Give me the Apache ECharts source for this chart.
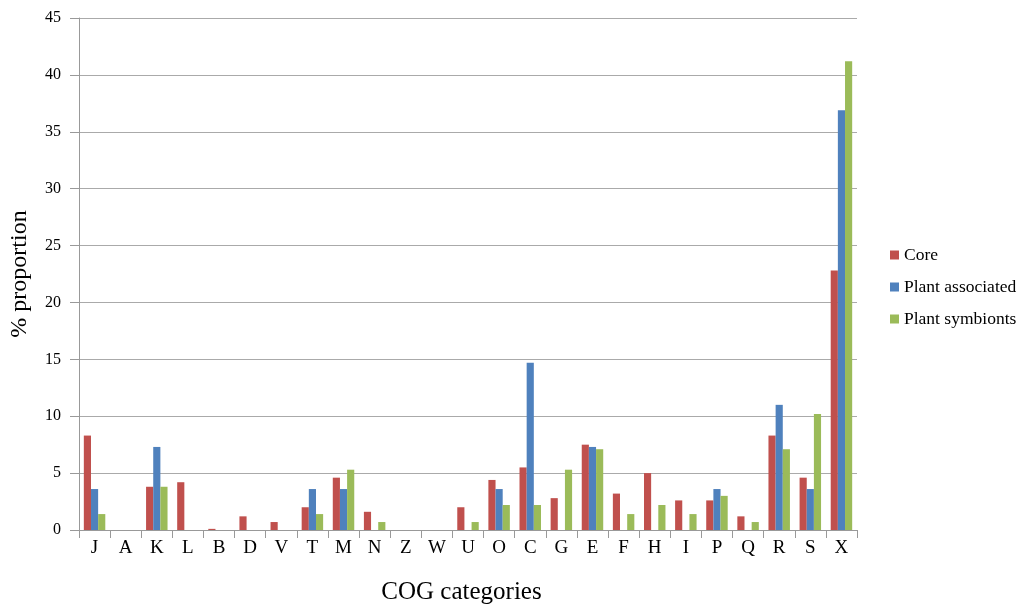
<!DOCTYPE html>
<html><head><meta charset="utf-8">
<script src="https://cdn.jsdelivr.net/npm/echarts@6/dist/echarts.min.js"></script>
<style>html,body{margin:0;padding:0;background:#fff}#c{width:1024px;height:615px}</style>
</head><body><div id="c"></div>
<script>
var categories = ['J','A','K','L','B','D','V','T','M','N','Z','W','U','O','C','G','E','F','H','I','P','Q','R','S','X'];
var core =       [8.3,0,3.8,4.2,0.1,1.2,0.7,2.0,4.6,1.6,0,0,2.0,4.4,5.5,2.8,7.5,3.2,5.0,2.6,2.6,1.2,8.3,4.6,22.8];
var plantAssoc = [3.6,0,7.3,0,0,0,0,3.6,3.6,0,0,0,0,3.6,14.7,0,7.3,0,0,0,3.6,0,11.0,3.6,36.9];
var plantSymb =  [1.4,0,3.8,0,0,0,0,1.4,5.3,0.7,0,0,0.7,2.2,2.2,5.3,7.1,1.4,2.2,1.4,3.0,0.7,7.1,10.2,41.2];
var seriesNames = ['Core','Plant associated','Plant symbionts'];
var chart = echarts.init(document.getElementById('c'));
var font = 'Liberation Serif, Times New Roman, serif';
chart.setOption({
  animation:false,
  textStyle:{fontFamily:font},
  color:['#C0504D','#4F81BD','#9BBB59'],
  grid:{left:76,right:167,top:18,bottom:85,containLabel:false},
  legend:{orient:'vertical',left:885,top:241,itemWidth:9,itemHeight:9,itemGap:14,icon:'rect',
    textStyle:{fontFamily:font,fontSize:17.5,color:'#000'},data:seriesNames},
  xAxis:{type:'category',data:categories,name:'COG categories',nameLocation:'middle',nameGap:50,
    nameTextStyle:{fontFamily:font,fontSize:25,color:'#000',padding:[0,13,0,0]},
    axisLine:{lineStyle:{color:'#999',width:1}},
    axisTick:{show:true,length:8,lineStyle:{color:'#999'}},
    axisLabel:{fontFamily:font,fontSize:19,color:'#000',margin:9}},
  yAxis:{type:'value',min:0,max:45,interval:5,name:'% proportion',nameLocation:'middle',nameGap:47,
    nameTextStyle:{fontFamily:font,fontSize:24,color:'#000'},
    axisLine:{show:true,lineStyle:{color:'#999'}},
    axisTick:{show:true,length:9,lineStyle:{color:'#999'}},
    axisLabel:{fontFamily:font,fontSize:16,color:'#000',margin:18},
    splitLine:{lineStyle:{color:'#aaa',width:1}}},
  series:[
    {name:seriesNames[0],type:'bar',data:core,barGap:'0%',barCategoryGap:'31%'},
    {name:seriesNames[1],type:'bar',data:plantAssoc,barGap:'0%',barCategoryGap:'31%'},
    {name:seriesNames[2],type:'bar',data:plantSymb,barGap:'0%',barCategoryGap:'31%'}
  ]
});
</script></body></html>
